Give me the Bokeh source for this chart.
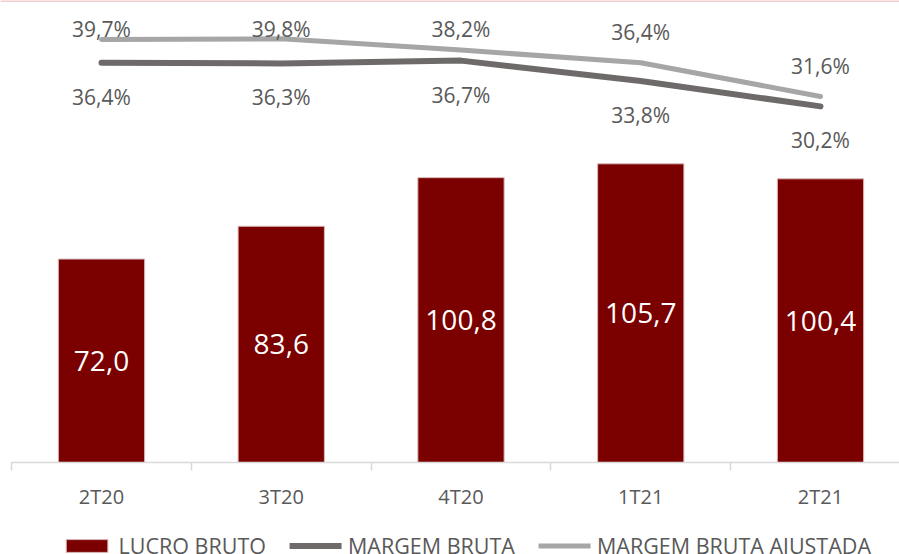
from bokeh.plotting import figure
from bokeh.layouts import column
from bokeh.models import ColumnDataSource, Range1d, FixedTicker, Legend, LegendItem, Span
from bokeh.core.properties import value
from bokeh.embed import file_html
from bokeh.resources import INLINE

# ---- data ----
categories = ["2T20", "3T20", "4T20", "1T21", "2T21"]
lucro_bruto = [72.0, 83.6, 100.8, 105.7, 100.4]
margem_bruta = [36.4, 36.3, 36.7, 33.8, 30.2]
margem_bruta_ajustada = [39.7, 39.8, 38.2, 36.4, 31.6]
series_names = ["LUCRO BRUTO", "MARGEM BRUTA", "MARGEM BRUTA AJUSTADA"]


def fmt(v, pct=False):
    return f"{v:.1f}".replace(".", ",") + ("%" if pct else "")


# ---- style ----
FONT = "Open Sans"
TEXT_GRAY = "#595959"
BAR_COLOR = "#7B0000"
BAR_EDGE = "#D9B8B8"
DARK_LINE = "#6E6A6A"
LIGHT_LINE = "#A6A6A6"
AXIS_GRAY = "#D9D9D9"
PX_PER_PCT = 7.04
LABEL_UP_PX = 31
LABEL_CAP = 41.26  # highest label centre (pct units) that stays inside chart

x = list(range(len(categories)))
X_START, X_END = -0.5619, 4.4395

p = figure(frame_width=899, frame_height=462, output_backend="svg", toolbar_location=None,
           x_range=Range1d(X_START, X_END), y_range=Range1d(0, 163.5),
           y_axis_location=None, min_border_left=0, min_border_right=0,
           min_border_top=0, min_border_bottom=0)
p.extra_y_ranges = {"pct": Range1d(-20.39, 45.24)}
p.xgrid.visible = False
p.ygrid.visible = False
p.outline_line_color = None

bar_src = ColumnDataSource(dict(
    x=x, top=lucro_bruto,
    mid=[v / 2 for v in lucro_bruto],
    label=[fmt(v) for v in lucro_bruto]))
p.vbar(x="x", top="top", width=0.48, source=bar_src,
       fill_color=BAR_COLOR, line_color=BAR_EDGE, line_width=1)
p.text(x="x", y="mid", text="label", source=bar_src, text_color="white",
       text_font=value(FONT), text_font_size="28px",
       text_align="center", text_baseline="middle")

line_src = ColumnDataSource(dict(
    x=x, mb=margem_bruta, ma=margem_bruta_ajustada,
    mb_lab=[fmt(v, True) for v in margem_bruta],
    ma_lab=[fmt(v, True) for v in margem_bruta_ajustada],
    ma_y=[min(v + LABEL_UP_PX / PX_PER_PCT, LABEL_CAP) for v in margem_bruta_ajustada]))

p.line(x="x", y="mb", source=line_src, y_range_name="pct",
       line_color=DARK_LINE, line_width=6, line_cap="round", line_join="round")
p.line(x="x", y="ma", source=line_src, y_range_name="pct",
       line_color=LIGHT_LINE, line_width=5, line_cap="round", line_join="round")

p.text(x="x", y="mb", text="mb_lab", source=line_src, y_range_name="pct",
       y_offset=34, text_color=TEXT_GRAY, text_font=value(FONT),
       text_font_size="21px", text_align="center", text_baseline="middle")
p.text(x="x", y="ma_y", text="ma_lab", source=line_src, y_range_name="pct",
       text_color=TEXT_GRAY, text_font=value(FONT),
       text_font_size="21px", text_align="center", text_baseline="middle")

# x axis: labels at category centres, tick marks at category boundaries
ax = p.xaxis[0]
ax.ticker = FixedTicker(ticks=x, minor_ticks=[i - 0.5 for i in x])
ax.major_label_overrides = {i: c for i, c in zip(x, categories)}
ax.bounds = (-0.5, X_END)
ax.major_tick_line_color = None
ax.major_tick_out = 0
ax.major_tick_in = 0
ax.minor_tick_out = 8
ax.minor_tick_in = 0
ax.minor_tick_line_color = AXIS_GRAY
ax.minor_tick_line_width = 1.5
ax.axis_line_color = AXIS_GRAY
ax.axis_line_width = 1.5
ax.major_label_standoff = 12
ax.major_label_text_font = FONT
ax.major_label_text_font_size = "20px"
ax.major_label_text_color = TEXT_GRAY

p.add_layout(Span(location=163.5, dimension="width", line_color="#F4CCCC", line_width=3))

# ---- legend strip under the chart ----
# the same series are drawn here, but with ranges that keep them out of view,
# so only their legend entries show
lg = figure(width=899, height=66, output_backend="svg", toolbar_location=None,
            x_range=Range1d(100, 101), y_range=Range1d(1000, 1001),
            x_axis_location=None, y_axis_location=None,
            min_border_left=0, min_border_right=0, min_border_top=0, min_border_bottom=0)
lg.xgrid.visible = False
lg.ygrid.visible = False
lg.outline_line_color = None
r_bar = lg.vbar(x="x", top="top", width=0.48, source=bar_src,
                fill_color=BAR_COLOR, line_color=BAR_EDGE, line_width=1)
r_dark = lg.line(x="x", y="mb", source=line_src, line_color=DARK_LINE, line_width=6, line_cap="round")
r_light = lg.line(x="x", y="ma", source=line_src, line_color=LIGHT_LINE, line_width=5, line_cap="round")

legend = Legend(items=[
    LegendItem(label=series_names[0], renderers=[r_bar]),
    LegendItem(label=series_names[1], renderers=[r_dark]),
    LegendItem(label=series_names[2], renderers=[r_light]),
], orientation="horizontal", location="center_right", glyph_width=52, glyph_height=16,
    label_standoff=6, spacing=24, padding=0, margin=28,
    border_line_color=None, background_fill_alpha=0,
    label_text_font=FONT, label_text_font_size="21.5px", label_text_color=TEXT_GRAY)
lg.add_layout(legend)

open("out.html", "w").write(file_html(column(p, lg, spacing=0), INLINE))
